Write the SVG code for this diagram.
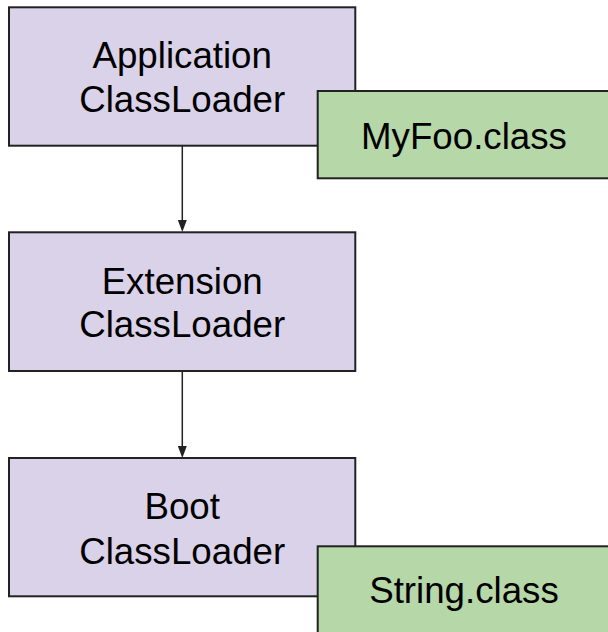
<svg xmlns="http://www.w3.org/2000/svg" width="608" height="632" viewBox="0 0 608 632">
  <style>
    .loader { fill: #d9d2e9; stroke: #222222; stroke-width: 2; }
    .cls { fill: #b6d7a8; stroke: #222222; stroke-width: 2; }
    .label { font-family: "Liberation Sans", Arial, sans-serif; font-size: 36.7px; fill: #000000; text-anchor: middle; }
    .edge { stroke: #222222; stroke-width: 1.5; fill: none; }
    .head { fill: #222222; }
  </style>
  <rect width="608" height="632" fill="#ffffff"/>

  <!-- delegation arrows between the class loaders -->
  <g id="connectors">
    <line class="edge" x1="182.3" y1="146" x2="182.3" y2="220"/>
    <path class="head" d="M177.8,220 L186.8,220 L182.3,232 Z"/>
    <line class="edge" x1="182.3" y1="371" x2="182.3" y2="446"/>
    <path class="head" d="M177.8,446 L186.8,446 L182.3,458 Z"/>
  </g>

  <g id="application-classloader">
    <rect class="loader" x="9" y="7.3" width="346.3" height="138.4"/>
    <text class="label" x="182.2" y="68.3">Application</text>
    <text class="label" x="182.2" y="112.3">ClassLoader</text>
  </g>

  <g id="myfoo-class">
    <rect class="cls" x="317.7" y="91" width="292" height="87.3"/>
    <text class="label" x="464" y="149.3">MyFoo.class</text>
  </g>

  <g id="extension-classloader">
    <rect class="loader" x="9" y="232.3" width="346.3" height="138.7"/>
    <text class="label" x="182.2" y="294.3">Extension</text>
    <text class="label" x="182.2" y="337.3">ClassLoader</text>
  </g>

  <g id="boot-classloader">
    <rect class="loader" x="9" y="458" width="346.3" height="138.3"/>
    <text class="label" x="182.2" y="519.3">Boot</text>
    <text class="label" x="182.2" y="563.7">ClassLoader</text>
  </g>

  <g id="string-class">
    <rect class="cls" x="317.7" y="546.3" width="292" height="90"/>
    <text class="label" x="464" y="603">String.class</text>
  </g>
</svg>
